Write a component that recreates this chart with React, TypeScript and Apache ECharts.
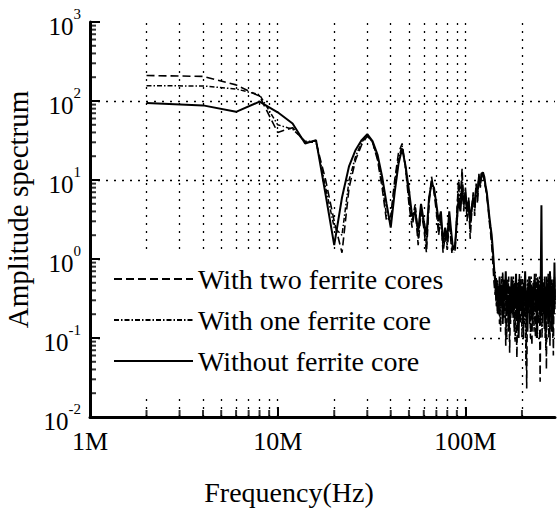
import React, { useEffect, useRef } from "react";
import * as echarts from "echarts";

// Sample frequencies (MHz)
const freqMHz = [
  2, 4, 6, 8, 10, 12, 14, 16, 18, 20,
  22, 24, 26, 28, 30, 32, 34, 36, 38, 40,
  42, 44, 46, 48, 50, 52, 54, 56, 58, 60,
  62, 64, 66, 68, 70, 72, 74, 76, 78, 80,
  82, 84, 86, 88, 90, 92, 94, 96, 98, 100,
  102, 104, 106, 108, 110, 112, 114, 116, 118, 120,
  122, 124, 126, 128, 130, 132, 134, 136, 138, 140,
  142, 144, 146, 148, 150, 152, 154, 156, 158, 160,
  162, 164, 166, 168, 170, 172, 174, 176, 178, 180,
  182, 184, 186, 188, 190, 192, 194, 196, 198, 200,
  202, 204, 206, 208, 210, 212, 214, 216, 218, 220,
  222, 224, 226, 228, 230, 232, 234, 236, 238, 240,
  242, 244, 246, 248, 250, 252, 254, 256, 258, 260,
  262, 264, 266, 268, 270, 272, 274, 276, 278, 280,
  282, 284, 286, 288, 290, 292, 294, 296, 298, 300,
];

const twoCores = [
  210, 205, 160, 115, 40, 46, 30, 30, 10, 3,
  1.2, 8, 18, 28, 36, 30, 18, 8, 3, 3.5,
  10, 22, 29, 14, 5, 2.5, 4.5, 1.5, 4, 2.5,
  1.2, 5, 11, 7, 4, 2, 3.5, 1.2, 2, 1.3,
  3, 1.5, 0.8, 1.1, 4, 10, 6, 14, 4, 8,
  3, 6, 1.8, 4, 7, 3.5, 9, 5, 12, 8,
  13, 11, 10, 8, 6, 4.5, 3, 2.2, 1.5, 0.9,
  0.5, 0.35, 0.6, 0.2, 0.45, 0.15, 0.5, 0.25, 0.7, 0.18,
  0.4, 0.08, 0.5, 0.3, 0.6, 0.065, 0.4, 0.2, 0.55, 0.3,
  0.12, 0.45, 0.25, 0.056, 0.5, 0.3, 0.65, 0.15, 0.4, 0.25,
  0.55, 0.1, 0.45, 0.2, 0.35, 0.023, 0.4, 0.25, 0.6, 0.15,
  0.5, 0.3, 0.08, 0.45, 0.2, 0.55, 0.3, 0.1, 0.5, 0.25,
  0.6, 0.15, 0.4, 0.3, 0.028, 0.35, 0.2, 0.55, 0.15, 0.45,
  0.25, 0.6, 0.1, 0.4, 0.04, 0.5, 0.25, 0.65, 0.2, 0.4,
  0.08, 0.45, 0.3, 0.55, 0.15, 0.4, 0.06, 0.35, 0.5, 0.2,
];

const oneCore = [
  156, 155, 142, 120, 50, 44, 31, 31, 8, 2.5,
  2, 10, 20, 30, 37, 30, 19, 9, 3.5, 3,
  9, 19, 27, 14, 6, 3, 5, 1.8, 4.5, 2.8,
  1.5, 5.5, 10, 7.5, 4.5, 2.5, 3, 1.4, 2.2, 1.5,
  3.5, 1.8, 1.0, 1.3, 3.5, 8, 5, 11, 4.5, 7.5,
  3.5, 5, 2.2, 4, 6.5, 4, 8.5, 6, 11, 8.5,
  12.5, 12, 10.5, 8, 6.5, 4.8, 3.2, 2.4, 1.7, 1.1,
  0.7, 0.7, 0.25, 0.55, 0.3, 0.4, 0.12, 0.6, 0.35, 0.2,
  0.5, 0.3, 0.1, 0.55, 0.25, 0.4, 0.15, 0.45, 0.2, 0.6,
  0.35, 0.09, 0.4, 0.3, 0.15, 0.55, 0.2, 0.35, 0.6, 0.1,
  0.4, 0.25, 0.15, 0.5, 0.045, 0.3, 0.55, 0.2, 0.4, 0.3,
  0.1, 0.6, 0.35, 0.2, 0.4, 0.12, 0.45, 0.3, 0.65, 0.2,
  0.1, 0.4, 0.25, 0.6, 0.15, 0.4, 0.3, 0.1, 0.45, 0.3,
  0.55, 0.25, 0.35, 0.07, 0.4, 0.3, 0.55, 0.2, 0.1, 0.45,
  0.3, 0.6, 0.15, 0.35, 0.5, 0.1, 0.4, 0.3, 0.6, 0.25,
];

const withoutCore = [
  94, 88, 73, 98, 72, 52, 29, 32, 6.5, 1.5,
  6, 15, 24, 32, 38, 31, 21, 11, 5, 2.5,
  7, 16, 25, 15, 7.5, 3.5, 4, 2.2, 5, 3,
  2, 6, 9, 8, 5, 3, 4, 1.6, 2.5, 1.8,
  4, 2.2, 1.3, 1.5, 3, 6, 4, 8, 5, 7,
  4, 5.5, 3, 4.5, 6, 5, 8, 7, 11, 9,
  12, 12.5, 11, 8.5, 7, 5, 3.5, 2.6, 2.0, 1.3,
  0.8, 0.5, 0.3, 0.45, 0.2, 0.6, 0.25, 0.4, 0.15, 0.55,
  0.3, 0.7, 0.2, 0.35, 0.12, 0.45, 0.25, 0.6, 0.3, 0.18,
  0.5, 0.28, 0.65, 0.2, 0.4, 0.1, 0.35, 0.55, 0.22, 0.45,
  0.15, 0.5, 0.3, 0.7, 0.25, 0.4, 0.12, 0.5, 0.3, 0.6,
  0.2, 0.45, 0.28, 0.15, 0.5, 0.3, 0.65, 0.22, 0.4, 0.1,
  0.35, 0.55, 0.25, 0.45, 0.18, 0.6, 4.8, 0.3, 0.5, 0.2,
  0.4, 0.13, 0.45, 0.3, 0.6, 0.2, 0.35, 0.15, 0.5, 0.25,
  0.7, 0.3, 0.45, 0.12, 0.4, 0.25, 0.55, 0.2, 0.9, 0.3,
];

const seriesNames = [
  "With two ferrite cores",
  "With one ferrite core",
  "Without ferrite core",
];

const xMinorTicks = [2, 3, 4, 5, 6, 7, 8, 9, 20, 30, 40, 50, 60, 70, 80, 90, 200];
const yMinorTicks = [
  0.02, 0.03, 0.04, 0.05, 0.06, 0.07, 0.08, 0.09,
  0.2, 0.3, 0.4, 0.5, 0.6, 0.7, 0.8, 0.9,
  2, 3, 4, 5, 6, 7, 8, 9,
  20, 30, 40, 50, 60, 70, 80, 90,
  200, 300, 400, 500, 600, 700, 800, 900,
];
const xGridLines = [2, 3, 4, 5, 6, 7, 8, 9, 10, 20, 30, 40, 50, 60, 70, 80, 90, 100, 200];
const yGridLines = [0.1, 1, 10, 100];

const FONT = "Liberation Serif";

export default function App() {
  const ref = useRef<HTMLDivElement>(null);

  useEffect(() => {
    if (!ref.current) return;
    const chart = echarts.init(ref.current, undefined, { renderer: "svg" });
    const pairs = (arr: number[]) => freqMHz.map((f, i) => [f, arr[i]]);

    const gridLineStyle = { color: "#000", width: 1.3, type: [2, 6] as any };

    chart.setOption({
      animation: false,
      backgroundColor: "#fff",
      textStyle: { fontFamily: FONT },
      grid: {
        left: 90,
        right: 2,
        top: 22,
        bottom: 95,
        containLabel: false,
        outerBoundsMode: "none",
      },
      xAxis: {
        type: "log",
        logBase: 10,
        min: 1,
        max: 300,
        name: "Frequency(Hz)",
        nameLocation: "middle",
        nameGap: 61,
        nameTextStyle: {
          fontFamily: FONT,
          fontSize: 28,
          color: "#000",
          padding: [0, 67, 0, 0],
        },
        axisLine: { show: true, onZero: false, lineStyle: { color: "#000", width: 3 } },
        axisTick: { show: true, inside: true, length: 10, lineStyle: { color: "#000", width: 2 } },
        minorTick: { show: false },
        splitLine: { show: false },
        axisLabel: {
          show: true,
          margin: 11,
          showMaxLabel: false,
          fontFamily: FONT,
          fontSize: 26,
          color: "#000",
          formatter: (v: number) => `${Math.round(v)}M`,
        },
      },
      yAxis: {
        type: "log",
        logBase: 10,
        min: 0.01,
        max: 1000,
        name: "Amplitude spectrum",
        nameLocation: "middle",
        nameRotate: 90,
        nameGap: 54,
        nameTextStyle: { fontFamily: FONT, fontSize: 29, color: "#000", padding: [0, 0, 0, 20] },
        axisLine: { show: true, onZero: false, lineStyle: { color: "#000", width: 3 } },
        axisTick: { show: true, inside: true, length: 10, lineStyle: { color: "#000", width: 2 } },
        minorTick: { show: false },
        splitLine: { show: false },
        axisLabel: {
          show: true,
          margin: 9,
          fontFamily: FONT,
          formatter: (v: number) => `{b|10}{e|${Math.round(Math.log10(v))}}`,
          rich: {
            b: { fontFamily: FONT, fontSize: 25, color: "#000", padding: [8, 0, 0, 0] },
            e: { fontFamily: FONT, fontSize: 15, color: "#000", padding: [0, 0, 16, 0] },
          },
        },
      },
      legend: {
        data: seriesNames,
        orient: "vertical",
        left: 100,
        top: 253,
        itemWidth: 79,
        itemHeight: 28,
        itemGap: 13,
        padding: [12, 25, 22, 13],
        backgroundColor: "#fff",
        selectedMode: false,
        z: 10,
        itemStyle: { opacity: 0 },
        textStyle: { fontFamily: FONT, fontSize: 28, color: "#000", lineHeight: 28 },
      },
      series: [
        {
          name: "gridTicksX",
          type: "scatter",
          data: xMinorTicks.map((f) => [f, 0.01]),
          symbol: "rect",
          symbolSize: [2, 7],
          symbolOffset: [0, -3.5],
          itemStyle: { color: "#000" },
          silent: true,
          clip: false,
          z: 1,
          markLine: {
            z: 1,
            silent: true,
            animation: false,
            symbol: ["none", "none"],
            label: { show: false },
            lineStyle: gridLineStyle,
            emphasis: { disabled: true },
            data: [
              ...xGridLines.map((v) => ({ xAxis: v })),
              ...yGridLines.map((v) => ({ yAxis: v })),
            ],
          },
        },
        {
          name: "gridTicksY",
          type: "scatter",
          data: yMinorTicks.map((v) => [1, v]),
          symbol: "rect",
          symbolSize: [6, 2],
          symbolOffset: [3, 0],
          itemStyle: { color: "#000" },
          silent: true,
          clip: false,
          z: 1,
        },
        {
          name: seriesNames[0],
          type: "line",
          data: pairs(twoCores),
          symbol: "none",
          showSymbol: false,
          silent: true,
          z: 3,
          itemStyle: { color: "#000" },
          lineStyle: { color: "#000", width: 1.6, type: [8, 4] },
        },
        {
          name: seriesNames[1],
          type: "line",
          data: pairs(oneCore),
          symbol: "none",
          showSymbol: false,
          silent: true,
          z: 3,
          itemStyle: { color: "#000" },
          lineStyle: { color: "#000", width: 1.5, type: [5, 2, 1.5, 2] },
        },
        {
          name: seriesNames[2],
          type: "line",
          data: pairs(withoutCore),
          symbol: "none",
          showSymbol: false,
          silent: true,
          z: 4,
          itemStyle: { color: "#000" },
          lineStyle: { color: "#000", width: 2 },
        },
      ],
    });

    return () => chart.dispose();
  }, []);

  return (
    <div
      ref={ref}
      style={{ position: "fixed", left: 0, top: 0, width: 557, height: 512, background: "#fff" }}
    />
  );
}
